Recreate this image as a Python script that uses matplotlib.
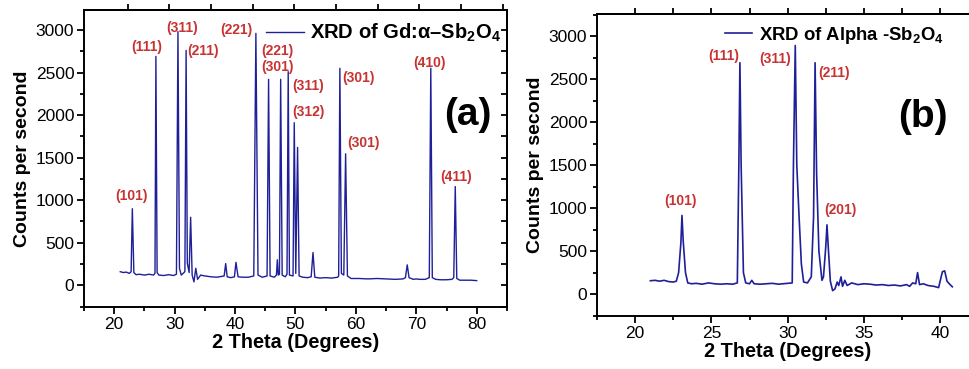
import numpy as np
import matplotlib
matplotlib.use("Agg")
import matplotlib.pyplot as plt
from matplotlib.ticker import MultipleLocator, FixedLocator

plt.rcParams['font.family'] = ['Liberation Sans', 'DejaVu Sans']
plt.rcParams['mathtext.fontset'] = 'custom'
plt.rcParams['mathtext.rm'] = 'Liberation Sans'
plt.rcParams['mathtext.bf'] = 'Liberation Sans:bold'

"""panel (a): Gd doped alpha-Sb2O4, 2theta vs counts read off the picture"""
a_theta = [21.0, 21.5, 22.0, 22.5, 22.8, 23.0, 23.25, 23.6, 24.2, 25.0, 25.8, 26.5,
           26.75, 26.9, 27.1, 27.4, 28.2, 29.0, 29.8, 30.3, 30.55, 30.8, 31.1, 31.7,
           31.9, 32.1, 32.4, 32.65, 32.9, 33.2, 33.5, 33.8, 34.3, 35.0, 36.0, 37.0,
           37.8, 38.2, 38.45, 38.7, 39.3, 39.9, 40.15, 40.5, 41.2, 42.2, 43.1, 43.45,
           43.8, 44.5, 45.3, 45.55, 45.8, 46.5, 46.85, 47.0, 47.15, 47.35, 47.55, 47.8,
           48.3, 48.6, 48.8, 49.0, 49.6, 49.8, 50.05, 50.35, 50.6, 51.2, 52.0, 52.6,
           52.9, 53.2, 54.0, 55.0, 56.0, 57.0, 57.15, 57.35, 57.6, 58.0, 58.3, 58.6,
           59.2, 60.5, 62.0, 63.5, 65.0, 66.5, 67.8, 68.2, 68.5, 68.8, 69.5, 70.0,
           70.5, 71.5, 72.15, 72.4, 72.65, 73.2, 74.0, 75.0, 75.9, 76.2, 76.45, 76.7,
           77.2, 78.0, 79.0, 80.0]
a_counts = [160, 150, 155, 140, 160, 900, 150, 125, 130, 120, 130, 120,
            140, 2690, 150, 120, 115, 125, 115, 130, 2980, 200, 120, 160,
            2760, 260, 150, 800, 120, 40, 200, 70, 120, 110, 100, 95,
            105, 110, 255, 100, 90, 100, 270, 100, 95, 95, 110, 2960,
            120, 95, 110, 2420, 110, 95, 120, 300, 120, 130, 2420, 120,
            100, 130, 2510, 120, 110, 1910, 140, 1620, 110, 95, 90, 100,
            385, 95, 85, 90, 85, 95, 110, 2550, 140, 120, 1545, 110,
            80, 80, 75, 80, 75, 70, 75, 90, 240, 90, 70, 75,
            70, 70, 90, 2550, 90, 70, 65, 65, 70, 90, 1160, 80,
            60, 60, 60, 55]

a_labels = ["(101)", "(111)", "(311)", "(211)", "(221)", "(221)", "(301)",
            "(311)", "(312)", "(301)", "(301)", "(410)", "(411)"]
a_lab_x = [22.8, 25.35, 31.3, 34.75, 40.3, 47.0, 47.0, 52.05, 52.2, 60.5, 61.2, 72.2, 76.65]
a_lab_y = [1047, 2805, 3020, 2747, 2998, 2747, 2560, 2336, 2032, 2435, 1668, 2606, 1270]

"""panel (b): pure alpha-Sb2O4"""
b_theta = [21.0, 21.3, 21.6, 21.9, 22.2, 22.5, 22.7, 22.85, 23.0, 23.07, 23.15, 23.3,
           23.45, 23.7, 24.0, 24.4, 24.8, 25.2, 25.6, 26.0, 26.4, 26.7, 26.8, 26.87,
           26.95, 27.1, 27.25, 27.5, 27.65, 27.8, 28.2, 28.6, 29.0, 29.4, 29.7, 30.0,
           30.3, 30.38, 30.5, 30.6, 30.75, 30.9, 31.05, 31.3, 31.55, 31.7, 31.8, 31.9,
           32.05, 32.25, 32.35, 32.5, 32.58, 32.68, 32.8, 32.95, 33.1, 33.25, 33.35, 33.5,
           33.6, 33.75, 33.9, 34.2, 34.6, 35.0, 35.4, 35.8, 36.2, 36.6, 37.0, 37.4,
           37.8, 38.0, 38.2, 38.4, 38.52, 38.65, 38.9, 39.2, 39.6, 39.9, 40.0, 40.15,
           40.3, 40.45, 40.6, 40.8]
b_counts = [155, 160, 150, 160, 145, 140, 150, 250, 600, 915, 620, 250,
            130, 120, 125, 115, 130, 120, 115, 120, 115, 130, 1500, 2690,
            1500, 250, 130, 120, 160, 120, 115, 120, 125, 115, 120, 125,
            130, 1500, 2890, 1500, 900, 350, 140, 130, 200, 900, 2690, 1400,
            500, 160, 200, 550, 805, 500, 150, 40, 60, 140, 100, 200,
            90, 160, 100, 130, 110, 120, 115, 105, 110, 100, 105, 95,
            110, 90, 130, 120, 250, 110, 120, 100, 90, 75, 150, 260,
            270, 150, 120, 85]

b_labels = ["(101)", "(111)", "(311)", "(211)", "(201)"]
b_lab_x = [22.98, 25.83, 29.18, 33.05, 33.48]
b_lab_y = [1085, 2767, 2729, 2573, 977]

line_col = "#1f1f99"
red = "#c83232"

fig = plt.figure(figsize=(9.7, 3.69), dpi=100)
axa = fig.add_axes([0.0866, 0.168, 0.436, 0.805])
axb = fig.add_axes([0.6155, 0.1436, 0.393, 0.818])


def style_axis(ax, xmaj, xmin, top_ticks):
	ax.xaxis.set_major_locator(MultipleLocator(xmaj))
	ax.xaxis.set_minor_locator(MultipleLocator(xmin))
	ax.yaxis.set_major_locator(MultipleLocator(500))
	ax.yaxis.set_minor_locator(MultipleLocator(250))
	ax.tick_params(which='major', direction='out', length=5, width=1.3, labelsize=12.5, pad=2)
	ax.tick_params(which='minor', direction='out', length=3, width=1.3)
	for s in ax.spines.values():
		s.set_linewidth(1.4)
	ax.set_xlabel("2 Theta (Degrees)", fontsize=14.3, fontweight='bold', labelpad=1)
	ax.set_ylabel("Counts per second", fontsize=14, fontweight='bold', labelpad=3)
	"""mirror ticks on top (outward) and right (inward)"""
	sec = ax.secondary_xaxis('top')
	sec.xaxis.set_major_locator(FixedLocator(top_ticks))
	sec.tick_params(direction='out', length=4, width=1.3, labeltop=False)
	sec.spines['top'].set_linewidth(1.4)
	secy = ax.secondary_yaxis('right')
	secy.yaxis.set_major_locator(MultipleLocator(500))
	secy.yaxis.set_minor_locator(MultipleLocator(250))
	secy.tick_params(which='both', direction='in', length=4, width=1.3, labelright=False)
	secy.spines['right'].set_linewidth(1.4)


axa.plot(a_theta, a_counts, color=line_col, lw=1.0, label="XRD of Gd:α–Sb$_{\\mathbf{2}}$O$_{\\mathbf{4}}$")
axa.set_xlim(15, 85)
axa.set_ylim(-255, 3235)
style_axis(axa, 10, 5, list(np.arange(22.2, 85, 6.9)))
for t, x, y in zip(a_labels, a_lab_x, a_lab_y):
	axa.text(x, y, t, color=red, fontsize=10, fontweight='bold', ha='center', va='center')
axa.legend(loc='center left', bbox_to_anchor=(0.43, 0.922), frameon=False,
	prop={'weight': 'bold', 'size': 14.5}, handlelength=1.9, handletextpad=0.3,
	borderpad=0, borderaxespad=0)
axa.text(0.908, 0.646, "(a)", transform=axa.transAxes, fontsize=28, fontweight='bold',
	ha='center', va='center')

axb.plot(b_theta, b_counts, color=line_col, lw=1.2, label="XRD of Alpha -Sb$_{\\mathbf{2}}$O$_{\\mathbf{4}}$")
axb.set_xlim(17.5, 42.5)
axb.set_ylim(-255, 3255)
style_axis(axb, 5, 2.5, list(np.arange(20, 42.5, 2.5)))
for t, x, y in zip(b_labels, b_lab_x, b_lab_y):
	axb.text(x, y, t, color=red, fontsize=10, fontweight='bold', ha='center', va='center')
axb.legend(loc='center left', bbox_to_anchor=(0.335, 0.93), frameon=False,
	prop={'weight': 'bold', 'size': 13.3}, handlelength=1.5, handletextpad=0.35,
	borderpad=0, borderaxespad=0)
axb.text(0.856, 0.659, "(b)", transform=axb.transAxes, fontsize=28, fontweight='bold',
	ha='center', va='center')

fig.savefig("out.png", dpi=100)
